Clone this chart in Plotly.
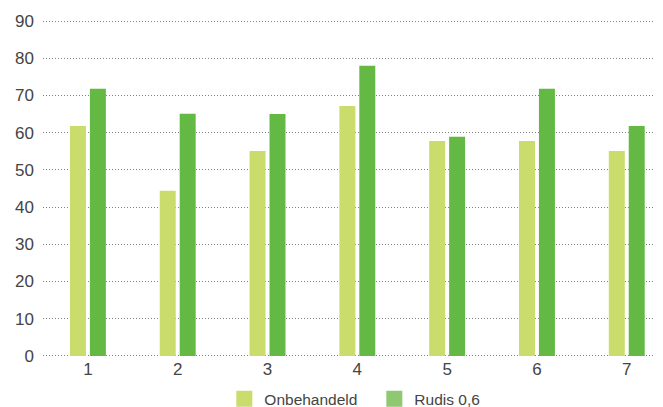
import plotly.graph_objects as go

categories = [1, 2, 3, 4, 5, 6, 7]
onbehandeld = [61.8, 44.4, 55.1, 67.2, 57.8, 57.8, 55.1]
rudis = [71.8, 65.1, 65.0, 78.0, 58.9, 71.8, 61.8]
series_names = ["Onbehandeld", "Rudis 0,6"]
y_ticks = [0, 10, 20, 30, 40, 50, 60, 70, 80, 90]

c_light = "#cadc6c"
c_dark = "#64b944"
c_dark_legend = "#8ec971"
font_fam = "Liberation Sans, Arial, sans-serif"
txt = "#444444"

fig = go.Figure()
fig.add_trace(go.Bar(x=categories, y=onbehandeld, name=series_names[0],
                     marker=dict(color=c_light, line=dict(width=0)),
                     width=0.178, offset=-0.2, showlegend=False))
fig.add_trace(go.Bar(x=categories, y=rudis, name=series_names[1],
                     marker=dict(color=c_dark, line=dict(width=0)),
                     width=0.178, offset=0.022, showlegend=False))
# legend entries
for nm, col in zip(series_names, [c_light, c_dark_legend]):
    fig.add_trace(go.Scatter(x=[None], y=[None], mode="markers", name=nm,
                             marker=dict(symbol="square", size=16, color=col),
                             showlegend=True))

fig.update_layout(
    width=663, height=407,
    margin=dict(l=35, r=11, t=12, b=58),
    paper_bgcolor="white", plot_bgcolor="white",
    barmode="overlay",
    font=dict(family=font_fam, color=txt, size=17),
    showlegend=True,
    legend=dict(orientation="h", x=0.537, xanchor="center",
                yref="container", y=0.039, yanchor="middle",
                font=dict(size=15.5, color=txt), itemsizing="trace",
                entrywidth=105, traceorder="normal"),
    xaxis=dict(range=[0.5, 7.37], tickmode="array", tickvals=categories,
               ticktext=[str(c) for c in categories], showgrid=False,
               zeroline=False, showline=False, ticks="", automargin=False,
               tickfont=dict(size=17, color=txt)),
    yaxis=dict(range=[-0.3, 90.3], tickmode="array", tickvals=y_ticks,
               showgrid=True, gridcolor="#808080", griddash="1px,2px", gridwidth=1,
               zeroline=False, showline=False, ticks="", automargin=False,
               ticklabelstandoff=8,
               tickfont=dict(size=17, color=txt)),
)

fig.write_html("out.html")
